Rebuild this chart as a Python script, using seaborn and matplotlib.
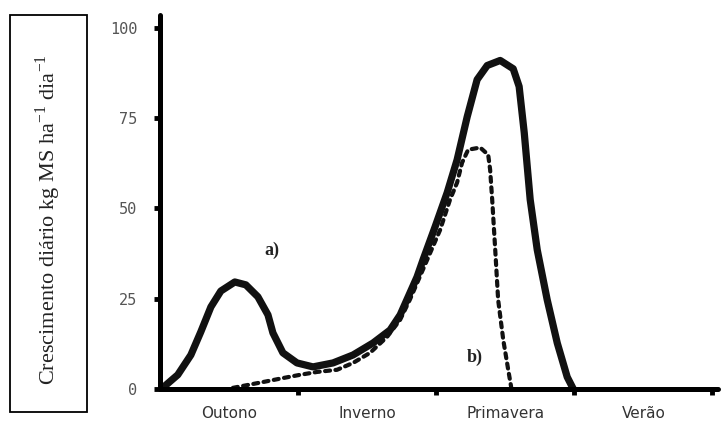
import numpy as np
import pandas as pd
import seaborn as sns
import matplotlib.pyplot as plt
from matplotlib.patches import Rectangle

# estações (eixo x em unidades de estação: 0 = início do outono)
estacoes = ['Outono', 'Inverno', 'Primavera', 'Verão']
y_ticks = [0, 25, 50, 75, 100]

# curva a) - linha cheia
a_x = [0.036, 0.130, 0.225, 0.297, 0.370, 0.442, 0.543, 0.623, 0.710, 0.783,
       0.819, 0.891, 0.993, 1.109, 1.254, 1.399, 1.543, 1.667, 1.740, 1.862,
       1.906, 1.993, 2.080, 2.152, 2.225, 2.297, 2.370, 2.464, 2.558, 2.601,
       2.638, 2.681, 2.732, 2.804, 2.877, 2.949, 2.993]
a_y = [0.8, 3.9, 9.4, 15.8, 22.7, 27.1, 29.6, 28.8, 25.5, 20.5,
       15.5, 10.0, 7.2, 6.1, 7.2, 9.4, 12.7, 16.3, 20.5, 31.0,
       35.8, 44.9, 54.3, 63.4, 75.3, 85.6, 89.5, 90.9, 88.6, 83.7,
       70.9, 52.4, 38.5, 24.7, 12.7, 3.3, 0.0]

# curva b) - linha pontilhada
b_x = [0.529, 0.746, 0.891, 1.014, 1.138, 1.283, 1.399, 1.522, 1.645, 1.739,
       1.810, 1.935, 2.029, 2.101, 2.152, 2.188, 2.232, 2.319, 2.377, 2.391,
       2.406, 2.428, 2.449, 2.486, 2.522, 2.543]
b_y = [0.3, 1.9, 3.0, 3.9, 4.7, 5.3, 7.2, 10.0, 14.4, 19.1,
       24.7, 35.7, 44.0, 52.4, 57.1, 62.6, 66.2, 66.8, 64.8, 60.7,
       52.4, 38.5, 24.7, 13.6, 5.3, 0.6]

df_a = pd.DataFrame({'x': a_x, 'y': a_y})
df_b = pd.DataFrame({'x': b_x, 'y': b_y})

sns.set_style('white')
plt.rcParams['mathtext.fontset'] = 'stix'

fig = plt.figure(figsize=(7.23, 4.26), dpi=100)
ax = fig.add_axes([0.221, 0.087, 0.772, 0.878])

sns.lineplot(data=df_a, x='x', y='y', ax=ax, color='#111111', linewidth=5.2,
             sort=False, solid_capstyle='round', solid_joinstyle='round')
sns.lineplot(data=df_b, x='x', y='y', ax=ax, color='#111111', linewidth=3,
             sort=False, linestyle=(0, (1.2, 1.3)), dash_capstyle='round',
             dash_joinstyle='round')

ax.set_xlim(0, 4.04)
ax.set_ylim(0, 103.5)

# eixos
for s in ['top', 'right']:
    ax.spines[s].set_visible(False)
for s in ['left', 'bottom']:
    ax.spines[s].set_linewidth(3.6)
    ax.spines[s].set_color('black')
    ax.spines[s].set_capstyle('round')

ax.set_yticks(y_ticks)
ax.set_yticklabels([str(v) for v in y_ticks], fontsize=11, color='#555555',
                   family='DejaVu Sans Mono')
ax.tick_params(axis='y', length=4, width=3.5, color='black', pad=12, left=True)

ax.set_xticks([1, 2, 3, 4])
ax.set_xticklabels([])
ax.set_xticks([0.5, 1.5, 2.5, 3.5], minor=True)
ax.set_xticklabels(estacoes, minor=True, fontsize=11, color='#333333')
ax.tick_params(axis='x', which='major', length=4, width=3.5, color='black', bottom=True)
ax.tick_params(axis='x', which='minor', length=0, pad=12)

ax.set_xlabel('')
ax.set_ylabel('')

ax.text(0.76, 37, 'a)', fontsize=13, family='Liberation Serif', fontweight='bold', color='#222222')
ax.text(2.22, 7.5, 'b)', fontsize=13, family='Liberation Serif', fontweight='bold', color='#222222')

# rótulo do eixo y dentro de uma caixa
fig.patches.append(Rectangle((10 / 723, 0.033), 77 / 723, 0.932, transform=fig.transFigure,
                             facecolor='none', edgecolor='black', linewidth=1.3))
fig.text(48 / 723, 0.484, r'Crescimento diário kg MS ha$^{\mathregular{-1}}$ dia$^{\mathregular{-1}}$',
         rotation=90, ha='center', va='center', fontsize=16, family='Liberation Serif',
         color='#222222')

fig.savefig('out.png', dpi=100)
